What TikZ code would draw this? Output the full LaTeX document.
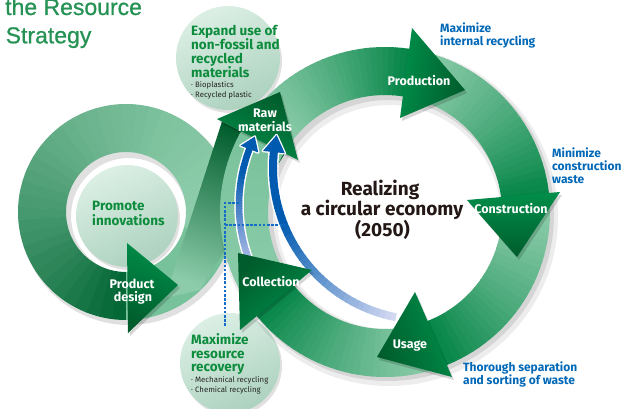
\documentclass[tikz,border=0pt]{standalone}
\usepackage{fontspec}
\setmainfont{Fira Sans}
\newfontfamily\titlefont[FakeBold=0.8]{Liberation Sans}
\definecolor{gdark}{RGB}{0,92,44}
\definecolor{gmid}{RGB}{0,142,74}
\definecolor{gband}{RGB}{0,130,68}
\definecolor{gloopdark}{RGB}{0,100,50}
\definecolor{glight}{RGB}{140,204,170}
\definecolor{cpale}{RGB}{220,239,229}
\definecolor{cshade}{RGB}{172,210,190}
\definecolor{tgreen}{RGB}{12,140,60}
\definecolor{tblue}{RGB}{0,104,183}
\definecolor{ttitle}{RGB}{38,146,84}
\definecolor{tdark}{RGB}{35,24,21}
\definecolor{bdark}{RGB}{0,90,175}
\definecolor{blightA}{RGB}{210,216,242}
\definecolor{blightB}{RGB}{165,182,228}
\definecolor{dashblue}{RGB}{20,110,200}

% annular band with colour gradient along it
\newcommand{\bandseg}[9]{%
  \foreach \kk in {1,...,#8}{%
    \pgfmathsetmacro{\angA}{#4+(#5-#4)*(\kk-1)/#8}%
    \pgfmathsetmacro{\angB}{#4+(#5-#4)*\kk/#8+((#5>#4)?0.3:-0.3)}%
    \pgfmathtruncatemacro{\mixp}{100*((\kk-0.5)/#8)^(#9)}%
    \fill[fill={#7!\mixp!#6}, shift={#1}] (\angA:#2) arc[start angle=\angA, end angle=\angB, radius=#2] -- (\angB:#3) arc[start angle=\angB, end angle=\angA, radius=#3] -- cycle;
  }%
}
% arrowhead triangle with shadow
\newcommand{\ahead}[4]{%
  \fill[black, opacity=0.16, shift={(2,3)}] #1 -- #2 -- #3 -- cycle;
  \shade[top color=gdark, bottom color=gmid, shading angle=#4] #1 -- #2 -- #3 -- cycle;
}
% blue curved arrow
\newcommand{\bluearrow}[9]{%
  \begin{scope}[shift={#1}]
    \pgfmathsetmacro{\rlo}{#2-#7}\pgfmathsetmacro{\rhi}{#2+#7}\pgfmathsetmacro{\wb}{#6+3}
    \draw[white, line width=\wb] (#3:#2) arc[start angle=#3, end angle=#4, radius=#2];
    \draw[white, line width=2.6, line join=round] (#4:\rlo) -- (#5:#2) -- (#4:\rhi) -- cycle;
    \foreach \kk in {1,...,40}{%
      \pgfmathsetmacro{\angA}{#3+(#4-#3)*(\kk-1)/40}%
      \pgfmathsetmacro{\angB}{#3+(#4-#3)*\kk/40+0.4}%
      \pgfmathsetmacro{\tval}{min(1,(\angA-#3)/(#8-#3))}%
      \pgfmathtruncatemacro{\mixp}{100*\tval}%
      \draw[draw={bdark!\mixp!#9}, line width=#6] (\angA:#2) arc[start angle=\angA, end angle=\angB, radius=#2];
    }
    \fill[bdark] (#4:\rlo) -- (#5:#2) -- (#4:\rhi) -- cycle;
  \end{scope}
}

\tikzset{
  lbl/.style={font=\bfseries\fontsize{12.5}{14}\selectfont, text=white, inner sep=0pt, anchor=base},
  gtxt/.style={font=\bfseries\fontsize{13.5}{15}\selectfont, text=tgreen, inner sep=0pt, anchor=base west},
  btxt/.style={font=\bfseries\fontsize{12}{14}\selectfont, text=tblue, inner sep=0pt, anchor=base west},
  smalltxt/.style={font=\fontsize{7.8}{9}\selectfont, text=black!85, inner sep=0pt, anchor=base west},
  ctxt/.style={font=\bfseries\fontsize{19}{21}\selectfont, text=tdark, inner sep=0pt, anchor=base},
  titletxt/.style={font=\titlefont\fontsize{23}{26}\selectfont, text=ttitle, inner sep=0pt, anchor=base west},
  dashline/.style={draw=dashblue, line width=1.3pt, dash pattern=on 2.6pt off 1.6pt},
  lightcirc/.style={top color=cpale, bottom color=cshade, shading angle=25},
}

\begin{document}
\begin{tikzpicture}[x=1pt,y=-1pt]
\useasboundingbox (0,0) rectangle (624,409);

% ---------- left loop ----------
\fill[black, opacity=0.12, even odd rule] (129,216) circle[radius=109] (129,216) circle[radius=58];
\bandseg{(126,212)}{60}{108}{15}{-270}{glight}{gloopdark}{40}{1.8}
\bandseg{(126,212)}{60}{108}{90}{15}{glight!85!gband}{glight}{20}{1}

% inner circle of left loop
\fill[black, opacity=0.12] (129,219) circle[radius=51];
\shade[lightcirc] (127,216) circle[radius=51];

% diagonal band from product design to raw materials
\shade[top color=gdark, middle color=gdark!85!glight, bottom color=glight, shading angle=-20]
  (165,298) -- (222,121.5) -- (285,153.4) -- (200,290) -- cycle;

% ---------- light circles ----------
\fill[black, opacity=0.12] (230,61) circle[radius=52];
\shade[lightcirc] (228,58) circle[radius=52];
\fill[black, opacity=0.12] (232,366) circle[radius=50];
\shade[lightcirc] (230,363) circle[radius=50];

% ---------- main ring ----------
\fill[black, opacity=0.07, even odd rule] (389,217) circle[radius=169] (389,217) circle[radius=112];
\fill[black, opacity=0.10, even odd rule] (388,215) circle[radius=166] (388,215) circle[radius=115];
\bandseg{(385,212)}{117}{165}{145}{215}{glight}{glight!85!gband}{20}{1}
\bandseg{(385,212)}{117}{165}{215}{280}{glight}{gband}{30}{1.3}
\bandseg{(385,212)}{117}{165}{280}{355}{glight}{gband}{30}{1.3}
\bandseg{(385,212)}{117}{165}{355}{430}{glight}{gband}{30}{1.3}
\bandseg{(385,212)}{117}{165}{430}{503}{glight}{gband}{30}{1.3}

% ---------- arrowheads ----------
\ahead{(280,92)}{(217,119)}{(298,160)}{-25}

% blue arrows
\bluearrow{(425,168)}{152}{101}{186}{192.5}{8}{11}{158}{blightA}
\bluearrow{(395,205)}{156}{160}{201}{206}{6.5}{9.5}{192}{blightB}

\ahead{(412,28)}{(465,90)}{(400,118)}{-100}
\ahead{(467,200)}{(560,192)}{(517,257)}{180}
\ahead{(415,292)}{(452,377)}{(377,357)}{110}
\ahead{(312,270)}{(240,330)}{(238,253)}{39}
\ahead{(127,243)}{(128,333)}{(178,285)}{160}

% ---------- dashed connectors ----------
\coordinate (dA) at (239,203);
\coordinate (dB) at (225,203);
\coordinate (dC) at (225,327);
\coordinate (dD) at (225,225);
\coordinate (dE) at (284,225);
\draw[dashline] (dA) -- (dB) -- (dC);
\draw[dashline] (dD) -- (dE);

% ---------- texts ----------
\node[titletxt] (tt1) at (5,15) {the Resource};
\node[titletxt] (tt2) at (5.5,43.3) {Strategy};

\node[gtxt] (ex1) at (191,36) {Expand use of};
\node[gtxt] (ex2) at (191,50) {non-fossil and};
\node[gtxt] (ex3) at (191,64) {recycled};
\node[gtxt] (ex4) at (191,77.5) {materials};
\node[smalltxt] (ex5) at (191,87.5) {· Bioplastics};
\node[smalltxt] (ex6) at (191,97.8) {· Recycled plastic};

\node[gtxt] (pr1) at (92,211) {Promote};
\node[gtxt] (pr2) at (92,225) {innovations};

\node[gtxt] (mx1) at (191,344) {Maximize};
\node[gtxt] (mx2) at (191,358.3) {resource};
\node[gtxt] (mx3) at (191,371.5) {recovery};
\node[smalltxt] (mx4) at (191,382.5) {· Mechanical recycling};
\node[smalltxt] (mx5) at (191,392.3) {· Chemical recycling};

\node[lbl] (raw1) at (265,117.5) {Raw};
\node[lbl] (raw2) at (265,132) {materials};
\node[lbl] (prod) at (419,86) {Production};
\node[lbl] (cons) at (511,213.3) {Construction};
\node[lbl] (usage) at (410,348) {Usage};
\node[lbl] (coll) at (271,286.7) {Collection};
\node[lbl] (pd1) at (132,288) {Product};
\node[lbl] (pd2) at (133,301.7) {design};

\node[ctxt] (c1) at (380,195.5) {Realizing};
\node[ctxt] (c2) at (382,215.5) {a circular economy};
\node[ctxt] (c3) at (382.5,236) {(2050)};

\node[btxt] (b1) at (440,32.3) {Maximize};
\node[btxt] (b2) at (440,45.2) {internal recycling};
\node[btxt] (b3) at (552,157.7) {Minimize};
\node[btxt] (b4) at (552,170.5) {construction};
\node[btxt] (b5) at (552,183.3) {waste};
\node[btxt] (b6) at (463,371.7) {Thorough separation};
\node[btxt] (b7) at (463,384.3) {and sorting of waste};
\end{tikzpicture}
\end{document}
